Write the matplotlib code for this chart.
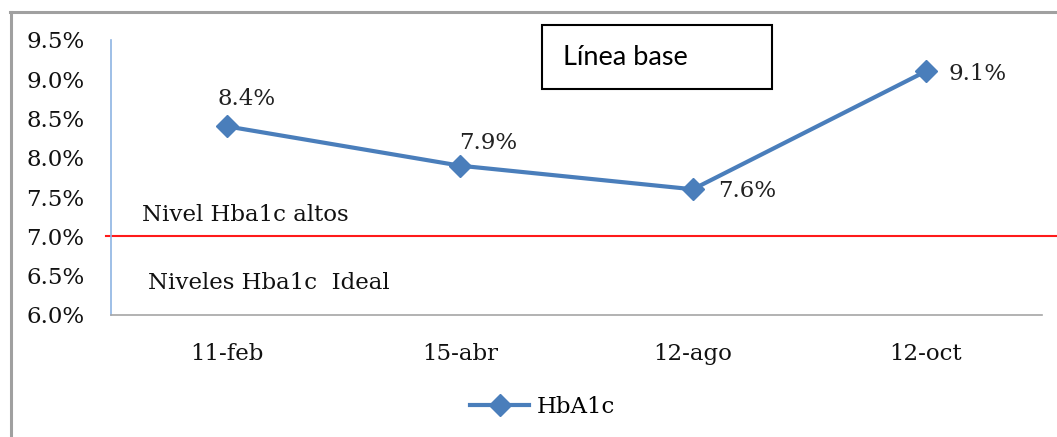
import matplotlib
matplotlib.use("Agg")
import matplotlib.pyplot as plt
from matplotlib.lines import Line2D
from matplotlib.patches import Rectangle

# Data
fechas = ["11-feb", "15-abr", "12-ago", "12-oct"]
hba1c = [8.4, 7.9, 7.6, 9.1]
etiquetas = ["8.4%", "7.9%", "7.6%", "9.1%"]
yticks = [6.0, 6.5, 7.0, 7.5, 8.0, 8.5, 9.0, 9.5]
umbral = 7.0

serif = "DejaVu Serif"
fs = 16.5
azul = "#4a7ebb"

fig = plt.figure(figsize=(10.57, 4.37), dpi=100)
fig.patch.set_facecolor("white")

ax = fig.add_axes([0.105, 0.2792, 0.8808, 0.6293])
x = list(range(len(fechas)))
ax.plot(x, hba1c, color=azul, lw=3, marker="D", markersize=11,
        label="HbA1c", zorder=3)

ax.set_xlim(-0.5, len(fechas) - 0.5)
ax.set_ylim(yticks[0], yticks[-1])
ax.set_yticks(yticks)
ax.set_yticklabels([f"{v:.1f}%" for v in yticks])
ax.set_xticks(x)
ax.set_xticklabels(fechas)
ax.tick_params(axis="both", length=0, labelsize=fs)
ax.tick_params(axis="y", pad=19)
ax.tick_params(axis="x", pad=20)
for lab in ax.get_xticklabels() + ax.get_yticklabels():
    lab.set_fontfamily(serif)
    lab.set_color("#111111")

for s in ["top", "right"]:
    ax.spines[s].set_visible(False)
ax.spines["left"].set_color("#8eb4e3")
ax.spines["left"].set_linewidth(1.2)
ax.spines["bottom"].set_color("#a6a6a6")
ax.spines["bottom"].set_linewidth(1.2)

# Threshold line extending past the plot area
ax.axhline(umbral, xmin=-0.005, xmax=1.017, color="#ff1a1a", lw=1.5,
           clip_on=False, zorder=2)

# Value labels: (dx, dy, ha) in points
offsets = [(14, 20, "center"), (20, 16.5, "center"),
           (18, -1.5, "left"), (16.5, -2, "left")]
for xi, yi, t, (dx, dy, ha) in zip(x, hba1c, etiquetas, offsets):
    ax.annotate(t, (xi, yi), xytext=(dx, dy),
                textcoords="offset points", ha=ha, va="center",
                fontsize=fs, family=serif, color="#222222")

# Zone labels
ax.text(0.033, 7.27, "Nivel Hba1c altos", fontsize=fs, family=serif,
        transform=ax.get_yaxis_transform(), va="center", color="#111111")
ax.text(0.04, 6.41, "Niveles Hba1c  Ideal", fontsize=fs, family=serif,
        transform=ax.get_yaxis_transform(), va="center", color="#111111")

# Title box
fig.patches.append(Rectangle((0.5128, 0.7963), 0.2176, 0.1465,
                             transform=fig.transFigure, fill=False,
                             edgecolor="black", lw=1.5))
fig.text(0.533, 0.869, "Línea base", fontsize=19.5, family="Lato",
         va="center", ha="left", color="black")

# Legend
leg = fig.legend(loc="center", bbox_to_anchor=(0.513, 0.069),
                 frameon=False, handlelength=2.6, handletextpad=0.3,
                 prop={"family": serif, "size": fs})

# Outer frame (left and top edges)
fig.add_artist(Line2D([0.0105, 0.0105], [0.0, 0.972], color="#a0a0a0",
                      lw=2.2, transform=fig.transFigure))
fig.add_artist(Line2D([0.0095, 1.0], [0.972, 0.972], color="#a0a0a0",
                      lw=2.2, transform=fig.transFigure))

fig.savefig("out.png", dpi=100)
